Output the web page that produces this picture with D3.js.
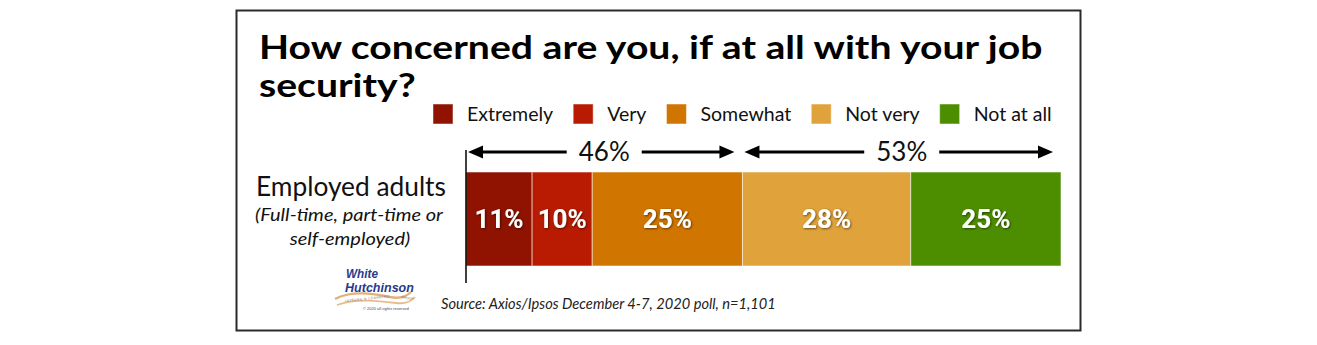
<!DOCTYPE html>
<html>
<head>
<meta charset="utf-8">
<script src="https://cdn.jsdelivr.net/npm/d3@7/dist/d3.min.js"></script>
<style>
  html, body { margin: 0; padding: 0; background: #fff; }
  svg { display: block; }
</style>
</head>
<body>
<svg id="chart" width="1317" height="345"></svg>
<script>
// ---- Data ----
const titleLines = ["How concerned are you, if at all with your job", "security?"];
const groupLabel = "Employed adults";
const groupSubLabel = ["(Full-time, part-time or", "self-employed)"];
const categories = ["Extremely", "Very", "Somewhat", "Not very", "Not at all"];
const values = [11, 10, 25, 28, 25];
const colors = ["#8f1300", "#b81b02", "#d07500", "#e0a33b", "#4d8e00"];
// Brackets: number of leading categories that make up the "concerned" share
const concernedCount = 3;
const sourceText = "Source: Axios/Ipsos December 4-7, 2020 poll, n=1,101";

const svg = d3.select("#chart");
const sans = "Lato, 'Open Sans', sans-serif";
const logoFont = "'Liberation Sans', Arial, sans-serif";

// Frame
svg.append("rect")
  .attr("x", 236.5).attr("y", 10.5)
  .attr("width", 844).attr("height", 320)
  .attr("fill", "#fff").attr("stroke", "#2b2b2b").attr("stroke-width", 2);

// Scale a text horizontally about its anchor point
function stretchBy(sel, k) {
  const ax = +sel.attr("x");
  sel.attr("transform", `translate(${ax},0) scale(${k},1) translate(${-ax},0)`);
}
function stretchTo(sel, target) {
  const k = target / sel.node().getComputedTextLength();
  stretchBy(sel, k);
  return k;
}
function fitWidth(sel, target) {
  const w = sel.node().getComputedTextLength();
  const fs = parseFloat(sel.attr("font-size"));
  sel.attr("font-size", fs * target / w);
}

// Title
const t1 = svg.append("text").attr("x", 259).attr("y", 59)
  .attr("font-family", sans).attr("font-weight", 700).attr("font-size", 33)
  .attr("fill", "#000").text(titleLines[0]);
const kTitle = stretchTo(t1, 784);
const t2 = svg.append("text").attr("x", 259).attr("y", 97)
  .attr("font-family", sans).attr("font-weight", 700).attr("font-size", 33)
  .attr("fill", "#000").text(titleLines[1]);
stretchBy(t2, kTitle);

// Scales
const total = d3.sum(values);
const x = d3.scaleLinear().domain([0, total]).range([466, 1061]);
const y = d3.scaleBand().domain([groupLabel]).range([172, 266]).padding(0);

const stacked = [];
let acc = 0;
values.forEach((v, i) => {
  stacked.push({ cat: categories[i], v, x0: acc, x1: acc + v, color: colors[i] });
  acc += v;
});

// Legend (flow layout)
const legend = svg.append("g");
let lx = 433;
categories.forEach((c, i) => {
  legend.append("rect").attr("x", lx).attr("y", 104).attr("width", 20).attr("height", 20)
    .attr("fill", colors[i]).attr("stroke", "rgba(255,255,255,0.5)").attr("stroke-width", 1);
  const t = legend.append("text").attr("x", lx + 34).attr("y", 121)
    .attr("font-family", sans).attr("font-size", 19)
    .attr("fill", "#111").text(c);
  const k = 1.03;
  stretchBy(t, k);
  lx += 34 + t.node().getComputedTextLength() * k + 20;
});

// Bars
svg.append("g").selectAll("rect").data(stacked).join("rect")
  .attr("x", d => x(d.x0)).attr("y", y(groupLabel))
  .attr("width", d => x(d.x1) - x(d.x0)).attr("height", y.bandwidth())
  .attr("fill", d => d.color)
  .attr("stroke", "rgba(255,255,255,0.55)").attr("stroke-width", 1);

// Value labels
const defs = svg.append("defs");
const f = defs.append("filter").attr("id", "shadow").attr("x", "-20%").attr("y", "-20%")
  .attr("width", "140%").attr("height", "140%");
f.append("feDropShadow").attr("dx", 0.8).attr("dy", 0.8).attr("stdDeviation", 0.8)
  .attr("flood-color", "#000").attr("flood-opacity", 0.6);

svg.append("g").selectAll("text").data(stacked).join("text")
  .attr("x", d => (x(d.x0) + x(d.x1)) / 2)
  .attr("y", y(groupLabel) + y.bandwidth() / 2 + 9)
  .attr("text-anchor", "middle")
  .attr("font-family", "Roboto, sans-serif").attr("font-weight", 700).attr("font-size", 26)
  .attr("fill", "#fff").attr("filter", "url(#shadow)")
  .text(d => d.v + "%");

// Category axis line
svg.append("line").attr("x1", 466).attr("x2", 466).attr("y1", 150).attr("y2", 283)
  .attr("stroke", "#000").attr("stroke-width", 1.5);

// Group labels
svg.append("text").attr("x", 351).attr("y", 196).attr("text-anchor", "middle")
  .attr("font-family", sans).attr("font-size", 23).attr("fill", "#111").text(groupLabel)
  .call(s => fitWidth(s, 190));
const sub0 = svg.append("text").attr("x", 349).attr("y", 221).attr("text-anchor", "middle")
  .attr("font-family", sans).attr("font-style", "italic").attr("font-size", 18)
  .attr("fill", "#111").text(groupSubLabel[0]);
const kSub = stretchTo(sub0, 188);
const sub1 = svg.append("text").attr("x", 350).attr("y", 245).attr("text-anchor", "middle")
  .attr("font-family", sans).attr("font-style", "italic").attr("font-size", 18)
  .attr("fill", "#111").text(groupSubLabel[1]);
stretchBy(sub1, kSub);

// Bracket arrows with share totals
const brackets = [
  { from: 0, to: d3.sum(values.slice(0, concernedCount)) },
  { from: d3.sum(values.slice(0, concernedCount)), to: total }
];
brackets.forEach(b => b.label = (b.to - b.from) + "%");
const ay = 152;
function arrowHead(g, tipX, dir) {
  g.append("path")
    .attr("d", `M${tipX},${ay} L${tipX + dir * 15},${ay - 6.5} L${tipX + dir * 15},${ay + 6.5} Z`)
    .attr("fill", "#000");
}
brackets.forEach(b => {
  const g = svg.append("g");
  const xa = x(b.from) + 2, xb = x(b.to) - 8;
  const cx = (xa + xb) / 2 + 3;
  const t = g.append("text").attr("x", cx).attr("y", 161).attr("text-anchor", "middle")
    .attr("font-family", sans).attr("font-size", 26).attr("fill", "#111").text(b.label);
  const half = t.node().getComputedTextLength() / 2 + 12;
  g.append("line").attr("x1", xa + 10).attr("x2", cx - half).attr("y1", ay).attr("y2", ay)
    .attr("stroke", "#000").attr("stroke-width", 3);
  g.append("line").attr("x1", cx + half).attr("x2", xb - 10).attr("y1", ay).attr("y2", ay)
    .attr("stroke", "#000").attr("stroke-width", 3);
  arrowHead(g, xa, 1);
  arrowHead(g, xb, -1);
});

// Source note
svg.append("text").attr("x", 441).attr("y", 309)
  .attr("font-family", sans).attr("font-style", "italic").attr("font-size", 14.5)
  .attr("fill", "#222").text(sourceText)
  .call(s => fitWidth(s, 335));

// Logo mark
const logo = svg.append("g");
logo.append("path")
  .attr("d", "M335,299 C350,291 372,293 390,297 C400,299 406,297 411,292")
  .attr("fill", "none").attr("stroke", "#e3b07a").attr("stroke-width", 2.4);
logo.append("path")
  .attr("d", "M337,305 C356,298 380,301 396,303 C405,304 411,302 415,297")
  .attr("fill", "none").attr("stroke", "#e8bd8c").attr("stroke-width", 1.8);
const w1 = logo.append("text").attr("x", 346).attr("y", 278)
  .attr("font-family", logoFont).attr("font-weight", 700)
  .attr("font-style", "italic").attr("font-size", 12.5).attr("fill", "#283a8a")
  .text("White");
stretchTo(w1, 32);
const w2 = logo.append("text").attr("x", 345).attr("y", 292)
  .attr("font-family", logoFont).attr("font-weight", 700)
  .attr("font-style", "italic").attr("font-size", 12).attr("fill", "#283a8a")
  .text("Hutchinson");
stretchTo(w2, 69);
logo.append("text").attr("x", 345).attr("y", 302).attr("transform", "rotate(-6,345,302)")
  .attr("font-family", logoFont).attr("font-size", 3.4).attr("letter-spacing", 0.5)
  .attr("fill", "#6f6a66").text("LEISURE & LEARNING");
logo.append("text").attr("x", 401).attr("y", 298).attr("transform", "rotate(10,401,298)")
  .attr("font-family", logoFont).attr("font-size", 3.4)
  .attr("fill", "#6f6a66").text("GROUP");
logo.append("text").attr("x", 363).attr("y", 310)
  .attr("font-family", logoFont).attr("font-size", 4)
  .attr("fill", "#3a3f6a").text("© 2020 all rights reserved");
</script>
</body>
</html>
